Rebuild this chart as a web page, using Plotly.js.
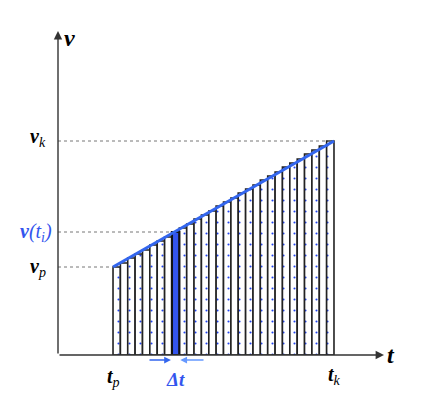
<!DOCTYPE html>
<html><head><meta charset="utf-8">
<script src="https://cdn.plot.ly/plotly-3.0.1.min.js"></script>
<style>html,body{margin:0;padding:0;background:#fff}</style>
</head><body>
<div id="chart" style="width:431px;height:410px"></div>
<script>
// Data (t and v in arbitrary units)
const barT = [58.7, 66.1, 73.4, 80.8, 88.2, 95.5, 102.9, 110.3, 117.6, 125.0, 132.4, 139.7, 147.1, 154.5, 161.8,
              169.2, 176.6, 183.9, 191.3, 198.7, 206.0, 213.4, 220.8, 228.1, 235.5, 242.9, 250.2, 257.6, 265.0, 272.3];
const barV = [88, 92, 97, 101, 105, 110, 114, 118, 123, 127, 131, 136, 140, 144, 149,
              153, 157, 162, 166, 170, 175, 179, 183, 188, 192, 196, 201, 205, 209, 214];
const barWidth = 7.37;
const highlightIndex = 8;
const tp = 55, tk = 276;
const vp = 88, vk = 214, vti = 123;
const lineT = [tp, tk];
const lineV = [vp, vk];
const tMax = 327, vMax = 325;

const normT = barT.filter((_, i) => i !== highlightIndex);
const normV = barV.filter((_, i) => i !== highlightIndex);

const traces = [
  {type:'bar', x:normT, y:normV, width:barWidth,
   marker:{color:'white', line:{color:'#222', width:1.6},
     pattern:{shape:'.', fgcolor:'#2244ee', bgcolor:'white', size:11, solidity:0.03}},
   hoverinfo:'skip'},
  {type:'bar', x:[barT[highlightIndex]], y:[barV[highlightIndex]], width:barWidth,
   marker:{color:'#3355ee', line:{color:'#111', width:2.2}}, hoverinfo:'skip'},
  {type:'scatter', mode:'lines', x:[0, tk], y:[vk, vk], line:{color:'#777', width:1, dash:'dot'}, hoverinfo:'skip'},
  {type:'scatter', mode:'lines', x:[0, barT[highlightIndex]-barWidth/2], y:[vti, vti], line:{color:'#777', width:1, dash:'dot'}, hoverinfo:'skip'},
  {type:'scatter', mode:'lines', x:[0, tp], y:[vp, vp], line:{color:'#777', width:1, dash:'dot'}, hoverinfo:'skip'},
  {type:'scatter', mode:'lines', x:lineT, y:lineV, line:{color:'#3366ee', width:3}, cliponaxis:false, hoverinfo:'skip'}
];

const serif = 'Liberation Serif';
const arrowCommon = {xref:'x', yref:'y', axref:'x', ayref:'y', text:'', showarrow:true};
const belowY = -5 / vMax;
const annotations = [
  Object.assign({x:tMax-1, y:0, ax:0, ay:0, arrowhead:2, arrowsize:1.2, arrowwidth:1.4, arrowcolor:'#333'}, arrowCommon),
  Object.assign({x:0, y:vMax-1, ax:0, ay:0, arrowhead:2, arrowsize:1.2, arrowwidth:1.4, arrowcolor:'#333'}, arrowCommon),
  {xref:'x', yref:'paper', axref:'x', ayref:'pixel', text:'', showarrow:true,
   x:barT[highlightIndex]-barWidth/2-1, y:belowY, ax:90, ay:0, arrowhead:2, arrowsize:0.9, arrowwidth:1.5, arrowcolor:'#3366ee'},
  {xref:'x', yref:'paper', axref:'x', ayref:'pixel', text:'', showarrow:true,
   x:barT[highlightIndex]+barWidth/2+1, y:belowY, ax:147, ay:0, arrowhead:2, arrowsize:0.9, arrowwidth:1.5, arrowcolor:'#6699ff'},
  {xref:'paper', yref:'paper', x:0, y:1, xanchor:'left', yanchor:'middle', xshift:4, yshift:-8, showarrow:false,
   text:'<b><i>v</i></b>', font:{family:serif, size:24, color:'#000'}},
  {xref:'paper', yref:'y', x:1, y:0, xanchor:'left', yanchor:'middle', xshift:0, showarrow:false,
   text:'<b><i>t</i></b>', font:{family:serif, size:24, color:'#000'}},
  {xref:'paper', yref:'y', x:0, y:vk, xanchor:'right', yanchor:'middle', xshift:-10, yshift:4, showarrow:false,
   text:'<b><i>v</i></b><sub><i>k</i></sub>', font:{family:serif, size:20, color:'#000'}},
  {xref:'paper', yref:'y', x:0, y:vti, xanchor:'right', yanchor:'middle', xshift:-4, showarrow:false,
   text:'<b><i>v</i></b><i>(t<sub>i</sub>)</i>', font:{family:serif, size:20, color:'#3355ee'}},
  {xref:'paper', yref:'y', x:0, y:vp, xanchor:'right', yanchor:'middle', xshift:-10, showarrow:false,
   text:'<b><i>v</i></b><sub><i>p</i></sub>', font:{family:serif, size:20, color:'#000'}},
  {xref:'x', yref:'paper', x:tp, y:0, xanchor:'center', yanchor:'top', yshift:-8, showarrow:false,
   text:'<b><i>t</i></b><sub><i>p</i></sub>', font:{family:serif, size:20, color:'#000'}},
  {xref:'x', yref:'paper', x:tk, y:0, xanchor:'center', yanchor:'top', yshift:-6, showarrow:false,
   text:'<b><i>t</i></b><sub><i>k</i></sub>', font:{family:serif, size:20, color:'#000'}},
  {xref:'x', yref:'paper', x:barT[highlightIndex], y:0, xanchor:'center', yanchor:'top', yshift:-12, showarrow:false,
   text:'<b><i>Δt</i></b>', font:{family:serif, size:19, color:'#3355ee'}}
];

const layout = {
  width:431, height:410, showlegend:false,
  margin:{l:58, r:46, t:30, b:55},
  paper_bgcolor:'white', plot_bgcolor:'white',
  barmode:'overlay', bargap:0,
  xaxis:{range:[0, tMax], visible:false, fixedrange:true},
  yaxis:{range:[0, vMax], visible:false, fixedrange:true},
  annotations:annotations
};
Plotly.newPlot('chart', traces, layout, {staticPlot:true, displayModeBar:false});
</script>
</body></html>
